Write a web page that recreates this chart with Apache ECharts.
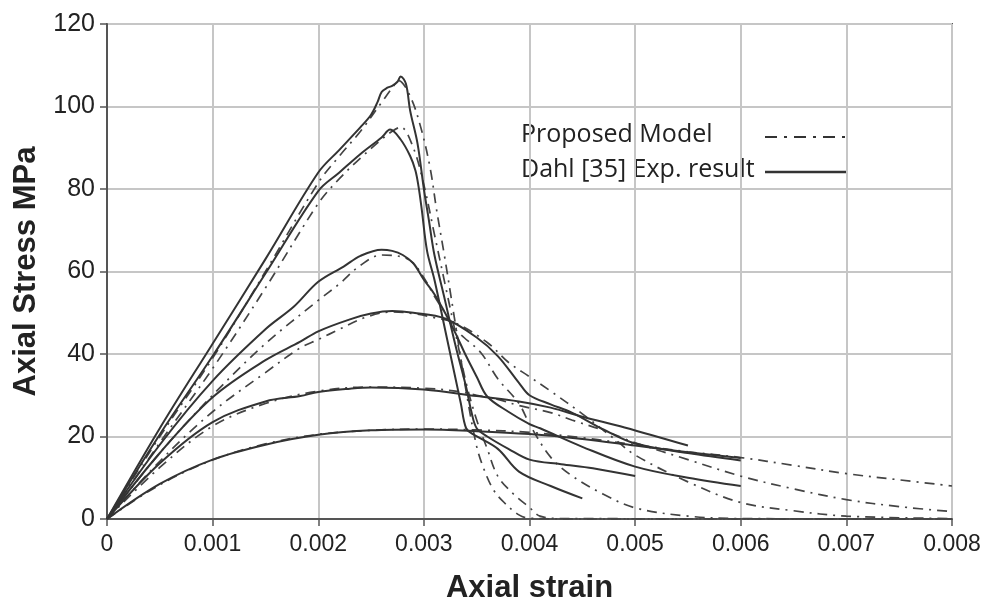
<!DOCTYPE html>
<html>
<head>
<meta charset="utf-8">
<title>Axial stress - strain</title>
<script src="https://cdn.jsdelivr.net/npm/echarts@6/dist/echarts.min.js"></script>
<style>
html,body{margin:0;padding:0;background:#fff;}
#chart{width:981px;height:601px;}
</style>
</head>
<body>
<div id="chart"></div>
<script>
// tick labels
var xTicks = [0, 0.001, 0.002, 0.003, 0.004, 0.005, 0.006, 0.007, 0.008];
var yTicks = [0, 20, 40, 60, 80, 100, 120];

// Dahl [35] experimental curves  [strain, stress MPa]
var exp107 = [[0,0],[0.0005,22],[0.001,42.5],[0.0015,63],[0.002,84],[0.0022,89.5],[0.0024,95],[0.0025,98],[0.00256,101],[0.0026,103.5],[0.00265,104.5],[0.0027,105],[0.00275,106],[0.00278,107.3],[0.00283,105.5],[0.00287,99],[0.00294,91],[0.003,80],[0.00305,72],[0.0031,64],[0.0032,53],[0.0033,42],[0.0034,32],[0.00345,26],[0.0035,22],[0.0036,20],[0.0038,17],[0.004,14.4],[0.0043,13.3],[0.0046,12.3],[0.005,10.4]];
var exp94 = [[0,0],[0.0005,20.5],[0.001,39.5],[0.0015,59.5],[0.002,79.5],[0.0022,84],[0.0024,88.5],[0.0026,92.5],[0.00268,94.4],[0.00278,92],[0.00287,88],[0.00292,84.5],[0.00295,80.5],[0.00298,75],[0.00303,65],[0.0031,58],[0.0032,46],[0.0033,34],[0.00335,28],[0.0034,22],[0.00347,20.5],[0.0037,17],[0.0039,11.5],[0.0042,8],[0.0045,5]];
var exp65 = [[0,0],[0.0005,18],[0.001,33.5],[0.0015,46],[0.00177,51.5],[0.002,57.5],[0.00224,61.2],[0.0024,63.8],[0.0026,65.3],[0.0027,65],[0.0028,64],[0.0029,62],[0.003,58],[0.0031,54.5],[0.0032,50],[0.0033,45],[0.0034,39.5],[0.0035,34.5],[0.0036,29.7],[0.0038,26],[0.004,23],[0.0041,22],[0.0045,17.5],[0.005,12.7],[0.0055,10],[0.006,8]];
var exp50 = [[0,0],[0.0005,16],[0.001,29.5],[0.0015,38.5],[0.00183,43],[0.002,45.5],[0.0023,48.4],[0.0025,49.8],[0.0027,50.4],[0.0029,50],[0.0032,48.6],[0.0035,44],[0.0037,39.5],[0.0039,33],[0.004,30],[0.0042,27.8],[0.0044,25.8],[0.0047,21.7],[0.005,18.3],[0.0055,16],[0.006,14.2]];
var exp32 = [[0,0],[0.0005,13.5],[0.001,23.5],[0.0015,28.5],[0.00183,29.8],[0.002,30.8],[0.0023,31.6],[0.0025,31.9],[0.003,31.4],[0.0035,29.8],[0.0039,28.5],[0.0042,27],[0.0045,24.8],[0.0049,22.2],[0.0055,17.8]];
var exp22 = [[0,0],[0.0005,8.5],[0.001,14.4],[0.0015,18],[0.002,20.4],[0.0025,21.5],[0.003,21.7],[0.0035,21.3],[0.004,20.6],[0.0045,19.4],[0.005,17.8],[0.0055,16.2],[0.006,14.8]];

// proposed model curves
var mod107 = [[0,0],[0.0005,20],[0.001,39],[0.0015,60],[0.002,81.5],[0.0022,88],[0.0024,94],[0.0026,101],[0.0027,104.5],[0.00276,106.3],[0.00287,102.5],[0.00297,95],[0.00306,85],[0.00312,75],[0.0032,63],[0.0033,47],[0.0034,31],[0.0035,17.6],[0.00357,12],[0.00366,7],[0.00376,4],[0.0039,1],[0.004,0.2],[0.0045,0],[0.008,0]];
var mod94 = [[0,0],[0.0005,18.5],[0.001,36.5],[0.0015,56],[0.002,76.5],[0.0022,82.5],[0.0024,87.5],[0.0026,92],[0.0027,94],[0.00278,95],[0.0029,90],[0.003,81],[0.0031,69],[0.0032,57],[0.0033,45],[0.0034,33],[0.0035,24],[0.0036,17],[0.0037,10.4],[0.00385,6],[0.004,2.8],[0.0041,0.7],[0.0043,0.1],[0.008,0]];
var mod65 = [[0,0],[0.0005,16],[0.001,30],[0.0015,42.5],[0.002,53],[0.0022,57],[0.0024,61.5],[0.0026,64],[0.0028,63.5],[0.0029,62],[0.003,58.5],[0.0031,54],[0.0032,50],[0.0033,46],[0.00338,44],[0.00354,40.3],[0.0037,34],[0.0039,28],[0.004,23],[0.0042,15],[0.0044,10.5],[0.0047,6],[0.005,2.7],[0.0055,0.7],[0.006,0.1],[0.008,0]];
var mod50 = [[0,0],[0.0005,14],[0.001,26],[0.0015,35.5],[0.00183,41.5],[0.002,43.5],[0.0022,46],[0.00246,49],[0.0027,50.2],[0.0029,49.8],[0.0031,48.8],[0.0033,47.5],[0.0036,42.8],[0.0038,38],[0.004,34.5],[0.0042,31],[0.0045,25.5],[0.0048,19.5],[0.005,15.5],[0.0055,9],[0.006,4],[0.0065,2],[0.007,0.7],[0.008,0.1]];
var mod32 = [[0,0],[0.0005,12.5],[0.001,22.5],[0.0015,28],[0.002,31],[0.0025,32],[0.003,31.7],[0.0033,31],[0.0035,30],[0.0037,29],[0.0039,27.5],[0.0042,25.8],[0.0044,24],[0.0047,21.5],[0.005,18.5],[0.0055,14.4],[0.006,10.4],[0.0065,7.3],[0.007,4.7],[0.0075,3],[0.008,1.8]];
var mod22 = [[0,0],[0.0005,8.3],[0.001,14.3],[0.0015,18.2],[0.002,20.5],[0.0025,21.5],[0.003,21.8],[0.0035,21.6],[0.004,21],[0.0045,19.7],[0.005,18],[0.0055,16.3],[0.006,14.9],[0.0065,13],[0.007,11],[0.0075,9.5],[0.008,8]];

var expList = [exp107, exp94, exp65, exp50, exp32, exp22];
var modList = [mod107, mod94, mod65, mod50, mod32, mod22];

var expName = 'Dahl [35] Exp. result';
var modName = 'Proposed Model';
var dashDot = [10, 6, 2, 6];

var series = [];
for (var i = 0; i < modList.length; i++) {
	series.push({
		name: modName, type: 'line', data: modList[i],
		showSymbol: false, smooth: 0.35, silent: true,
		lineStyle: {color: '#444', width: 1.7, type: dashDot}
	});
}
for (var j = 0; j < expList.length; j++) {
	series.push({
		name: expName, type: 'line', data: expList[j],
		showSymbol: false, smooth: 0.35, silent: true,
		lineStyle: {color: '#333', width: 2, type: 'solid'}
	});
}

var chart = echarts.init(document.getElementById('chart'), null, {renderer: 'canvas'});
var option = {
	animation: false,
	backgroundColor: '#fff',
	grid: {left: 107, right: 29, top: 24, bottom: 82, outerBoundsMode: 'none', containLabel: false,
		show: true, borderColor: '#555', borderWidth: 2},
	xAxis: {
		type: 'value', min: xTicks[0], max: xTicks[xTicks.length - 1], interval: 0.001,
		name: 'Axial strain', nameLocation: 'middle', nameGap: 54,
		nameTextStyle: {fontFamily: 'Liberation Sans', fontWeight: 'bold', fontSize: 31, color: '#222'},
		axisLine: {show: true, onZero: false, lineStyle: {color: '#555', width: 2}},
		axisTick: {show: true, inside: false, length: 7, lineStyle: {color: '#555', width: 1.5}},
		axisLabel: {margin: 14, fontFamily: 'Liberation Sans', fontSize: 23, color: '#222',
			formatter: function (v) { return v === 0 ? '0' : v.toFixed(3); }},
		splitLine: {show: true, lineStyle: {color: '#c6c6c6', width: 2}}
	},
	yAxis: {
		type: 'value', min: yTicks[0], max: yTicks[yTicks.length - 1], interval: 20,
		name: 'Axial Stress MPa', nameLocation: 'middle', nameGap: 56, nameRotate: 90,
		nameTextStyle: {fontFamily: 'Liberation Sans', fontWeight: 'bold', fontSize: 31, color: '#222'},
		axisLine: {show: true, lineStyle: {color: '#555', width: 2}},
		axisTick: {show: true, inside: false, length: 7, lineStyle: {color: '#555', width: 1.5}},
		axisLabel: {margin: 12, fontFamily: 'Liberation Sans', fontSize: 25, color: '#222'},
		splitLine: {show: true, lineStyle: {color: '#c6c6c6', width: 2}}
	},
	// legend drawn inside the plot, text left, line sample right
	graphic: [
		{type: 'text', left: 521, top: 122, style: {text: modName, font: '25px "Open Sans"', fill: '#222'}},
		{type: 'text', left: 521, top: 157, style: {text: expName, font: '25px "Open Sans"', fill: '#222'}},
		{type: 'line', shape: {x1: 765, y1: 137, x2: 846, y2: 137}, style: {stroke: '#333', lineWidth: 2.2, lineDash: [12, 7, 3, 7]}},
		{type: 'line', shape: {x1: 765, y1: 172, x2: 848, y2: 172}, style: {stroke: '#333', lineWidth: 2.5}}
	],
	series: series
};
chart.setOption(option);
</script>
</body>
</html>
